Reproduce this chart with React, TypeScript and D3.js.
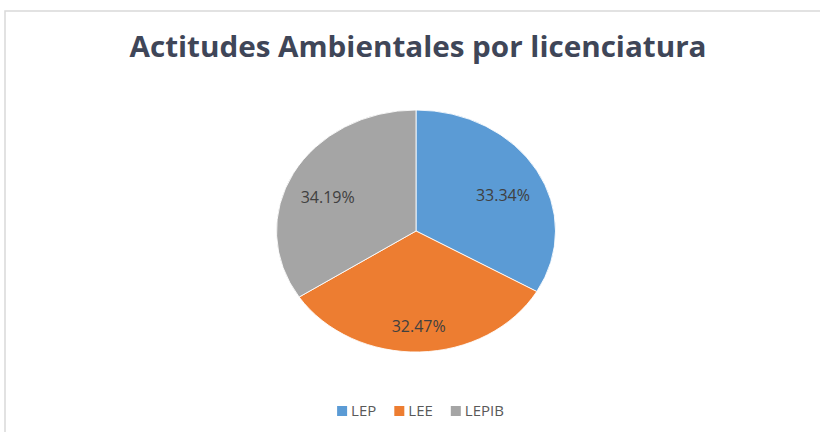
import React, { useEffect, useRef } from 'react';
import * as d3 from 'd3';

const title = 'Actitudes Ambientales por licenciatura';
const categories = ['LEP', 'LEE', 'LEPIB'];
const values = [33.34, 32.47, 34.19];
const colors = ['#5B9BD5', '#ED7D31', '#A5A5A5'];

const App = () => {
  const svgRef = useRef<SVGSVGElement>(null);

  useEffect(() => {
    const width = 820;
    const height = 432;
    const cx = 416;
    const cy = 231;
    const ry = 121;
    const rx = 139.5;

    const svg = d3.select(svgRef.current)
      .attr('width', width)
      .attr('height', height);
    svg.selectAll('*').remove();

    svg.append('rect')
      .attr('width', width)
      .attr('height', height)
      .attr('fill', '#fff');

    // chart frame, runs off the right and bottom edges
    svg.append('rect')
      .attr('x', 5)
      .attr('y', 11)
      .attr('width', width + 20)
      .attr('height', height + 20)
      .attr('fill', 'none')
      .attr('stroke', '#d9d9d9')
      .attr('stroke-width', 1.5);

    svg.append('text')
      .attr('x', 418)
      .attr('y', 57)
      .attr('text-anchor', 'middle')
      .attr('font-family', '"Open Sans", sans-serif')
      .attr('font-weight', 700)
      .attr('font-size', 28)
      .attr('fill', '#3f4658')
      .attr('textLength', 577)
      .attr('lengthAdjust', 'spacingAndGlyphs')
      .text(title);

    const data = categories.map((c, i) => ({ name: c, value: values[i], color: colors[i] }));

    const pie = d3.pie<any>()
      .value(d => d.value)
      .sort(null);

    const arc = d3.arc<any>()
      .innerRadius(0)
      .outerRadius(ry);

    const labelArc = d3.arc<any>()
      .innerRadius(ry * 0.72)
      .outerRadius(ry * 0.72);

    const arcs = pie(data);

    // pie is stretched horizontally like the picture
    const g = svg.append('g')
      .attr('transform', `translate(${cx},${cy}) scale(${rx / ry},1)`);

    g.selectAll('path')
      .data(arcs)
      .enter()
      .append('path')
      .attr('d', arc)
      .attr('fill', d => d.data.color)
      .attr('stroke', '#fff')
      .attr('stroke-width', 0.8);

    svg.selectAll('.label')
      .data(arcs)
      .enter()
      .append('text')
      .attr('class', 'label')
      .attr('x', d => cx + labelArc.centroid(d)[0] * rx / ry)
      .attr('y', d => cy + labelArc.centroid(d)[1] + 8)
      .attr('dy', '0.35em')
      .attr('text-anchor', 'middle')
      .attr('font-family', '"Open Sans", sans-serif')
      .attr('font-size', 16)
      .attr('fill', '#404040')
      .text(d => `${d.data.value.toFixed(2)}%`);

    // legend
    const legend = svg.append('g');
    let x = 0;
    data.forEach(d => {
      const item = legend.append('g').attr('transform', `translate(${x},0)`);
      item.append('rect')
        .attr('x', 0)
        .attr('y', -10)
        .attr('width', 10)
        .attr('height', 10)
        .attr('fill', d.color);
      const t = item.append('text')
        .attr('x', 14)
        .attr('y', 0)
        .attr('font-family', '"Open Sans", sans-serif')
        .attr('font-size', 15)
        .attr('fill', '#595959')
        .text(d.name);
      const w = (t.node() as SVGTextElement).getComputedTextLength();
      x += 14 + w + 18;
    });
    const total = x - 18;
    legend.attr('transform', `translate(${420.5 - total / 2},416)`);
  }, []);

  return (
    <svg ref={svgRef} style={{ position: 'absolute', left: 0, top: 0 }}></svg>
  );
};

export default App;
